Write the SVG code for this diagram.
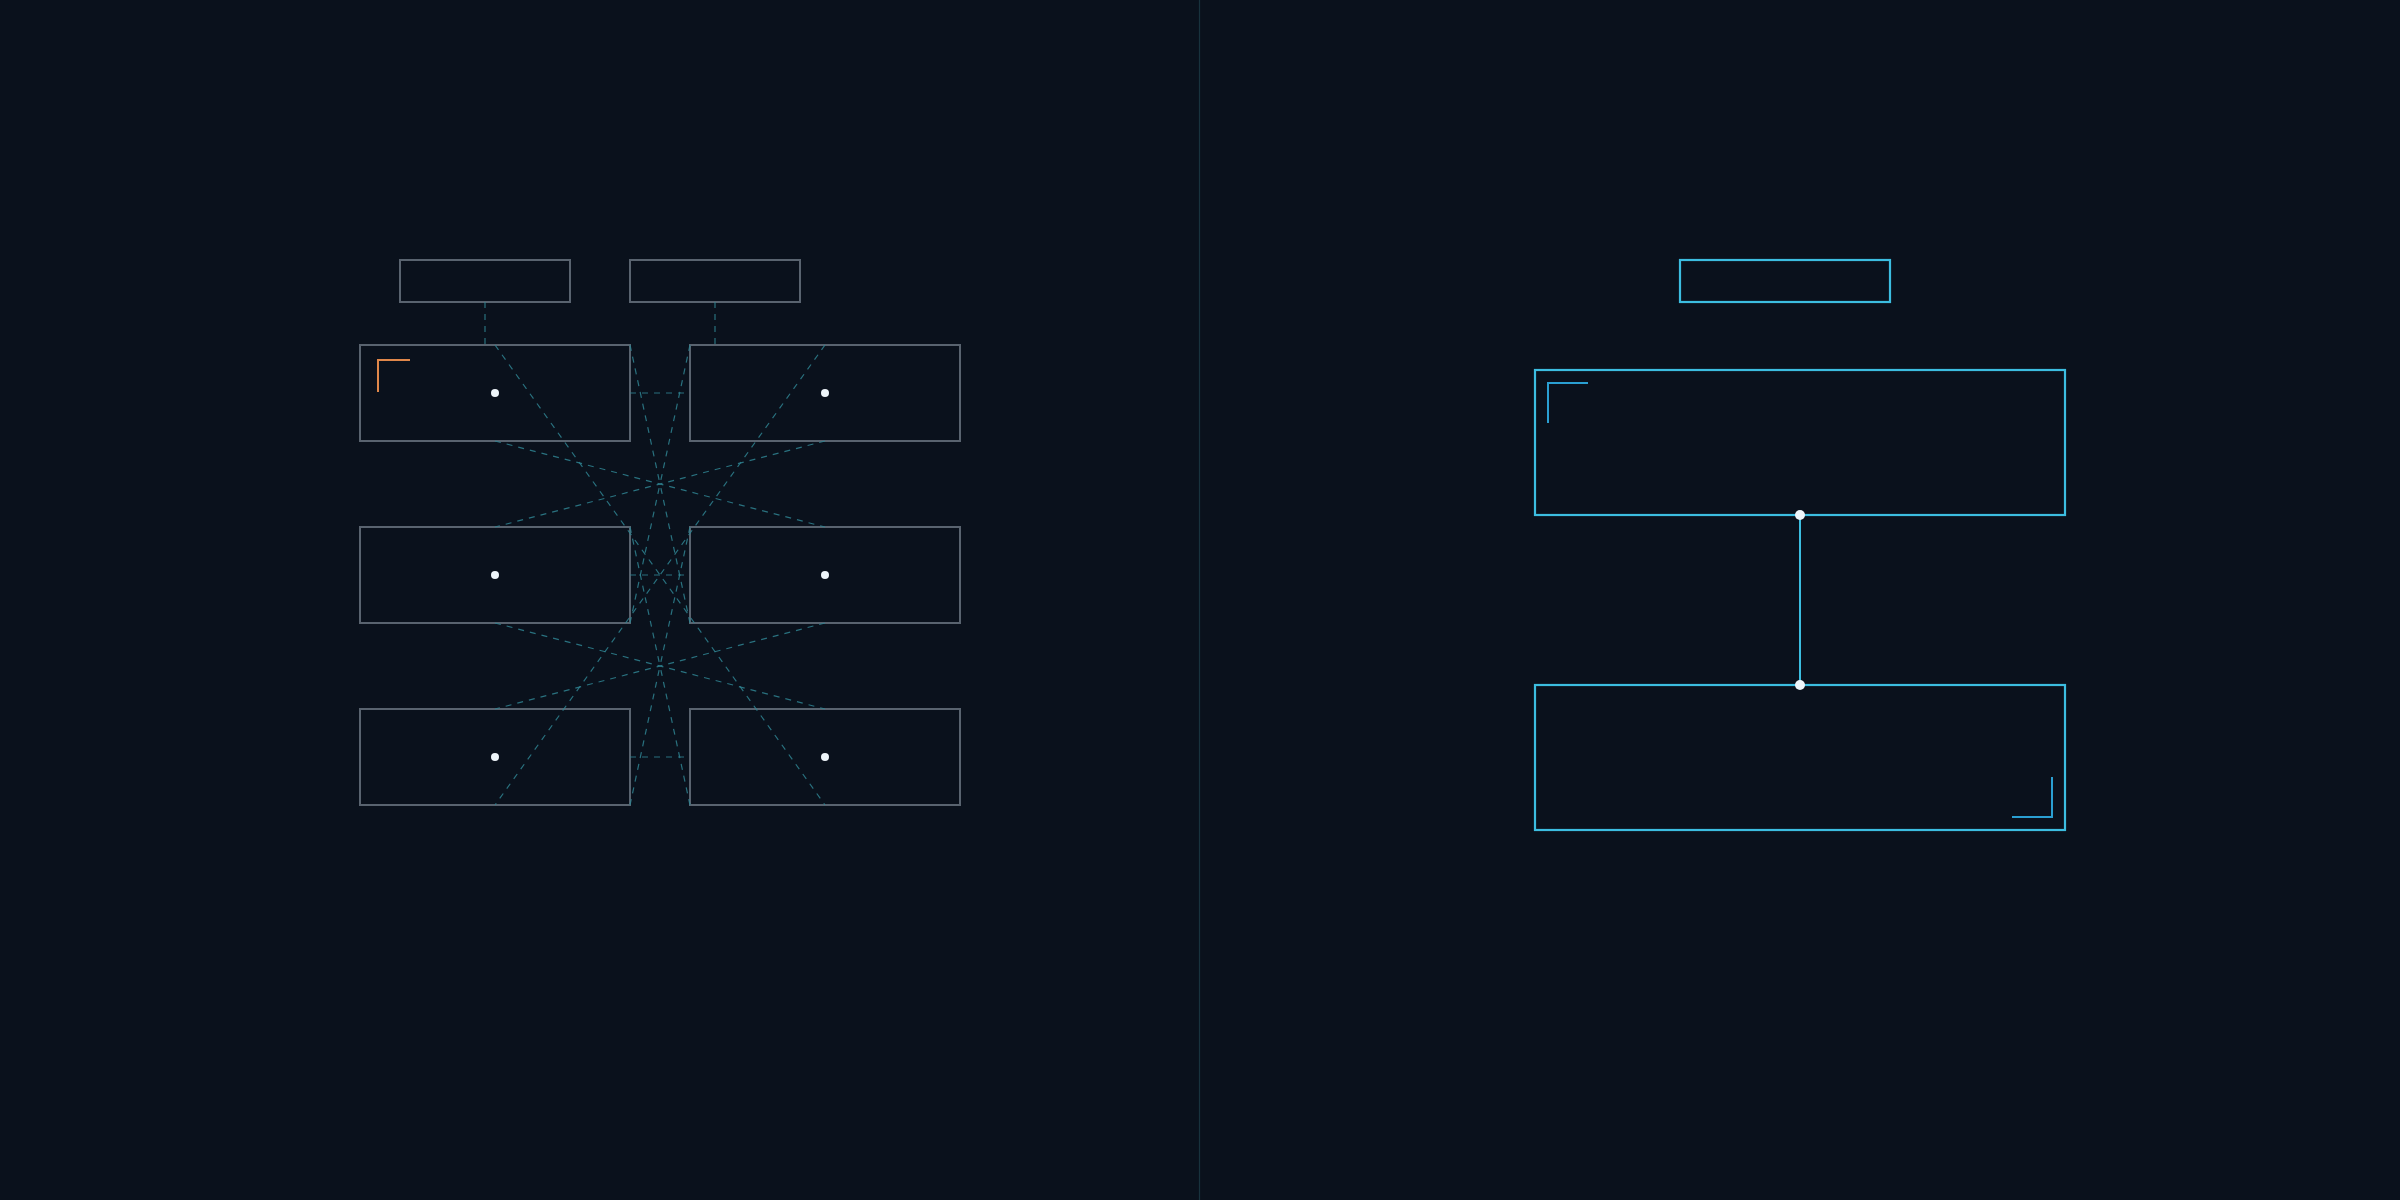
<svg xmlns="http://www.w3.org/2000/svg" width="2400" height="1200" viewBox="0 0 2400 1200">
  <style>
    .bg { fill: #0a111c; }
    .gbox { fill: #0a111c; stroke: #59636f; stroke-width: 2; }
    .cbox { fill: #0a111c; stroke: #3cbde0; stroke-width: 2.2; }
    .dash { fill: none; stroke: #2f8291; stroke-width: 1.2; stroke-dasharray: 6 6; opacity: 0.85; }
    .dot { fill: #eef5fa; }
    .solid { fill: none; stroke: #3cbde0; stroke-width: 2; }
  </style>
  <rect class="bg" x="0" y="0" width="2400" height="1200"/>
  <line x1="1199.5" y1="0" x2="1199.5" y2="1200" stroke="#18323d" stroke-width="1.2"/>

  <g id="top-a"><rect class="gbox" x="400" y="260" width="170" height="42"/></g>
  <g id="top-b"><rect class="gbox" x="630" y="260" width="170" height="42"/></g>

  <g id="r1c1">
    <rect class="gbox" x="360" y="345" width="270" height="96"/>
    <path d="M378,392 V360 H410" fill="none" stroke="#e0874a" stroke-width="2"/>
    <circle class="dot" cx="495" cy="393" r="4"/>
  </g>
  <g id="r1c2">
    <rect class="gbox" x="690" y="345" width="270" height="96"/>
    <circle class="dot" cx="825" cy="393" r="4"/>
  </g>
  <g id="r2c1">
    <rect class="gbox" x="360" y="527" width="270" height="96"/>
    <circle class="dot" cx="495" cy="575" r="4"/>
  </g>
  <g id="r2c2">
    <rect class="gbox" x="690" y="527" width="270" height="96"/>
    <circle class="dot" cx="825" cy="575" r="4"/>
  </g>
  <g id="r3c1">
    <rect class="gbox" x="360" y="709" width="270" height="96"/>
    <circle class="dot" cx="495" cy="757" r="4"/>
  </g>
  <g id="r3c2">
    <rect class="gbox" x="690" y="709" width="270" height="96"/>
    <circle class="dot" cx="825" cy="757" r="4"/>
  </g>

  <g id="connectors-left">
    <line class="dash" x1="485" y1="302" x2="485" y2="345"/>
    <line class="dash" x1="715" y1="302" x2="715" y2="345"/>
    <line class="dash" x1="630" y1="393" x2="690" y2="393"/>
    <line class="dash" x1="630" y1="575" x2="690" y2="575"/>
    <line class="dash" x1="630" y1="757" x2="690" y2="757"/>
    <line class="dash" x1="495" y1="345" x2="825" y2="805"/>
    <line class="dash" x1="825" y1="345" x2="495" y2="805"/>
    <line class="dash" x1="495" y1="441" x2="825" y2="527"/>
    <line class="dash" x1="825" y1="441" x2="495" y2="527"/>
    <line class="dash" x1="495" y1="623" x2="825" y2="709"/>
    <line class="dash" x1="825" y1="623" x2="495" y2="709"/>
    <line class="dash" x1="630" y1="345" x2="660" y2="484"/>
    <line class="dash" x1="690" y1="345" x2="660" y2="484"/>
    <line class="dash" x1="630" y1="623" x2="660" y2="484"/>
    <line class="dash" x1="690" y1="623" x2="660" y2="484"/>
    <line class="dash" x1="630" y1="527" x2="660" y2="666"/>
    <line class="dash" x1="690" y1="527" x2="660" y2="666"/>
    <line class="dash" x1="630" y1="805" x2="660" y2="666"/>
    <line class="dash" x1="690" y1="805" x2="660" y2="666"/>
  </g>

  <g id="right-top"><rect class="cbox" x="1680" y="260" width="210" height="42"/></g>
  <g id="right-a">
    <rect class="cbox" x="1535" y="370" width="530" height="145"/>
    <path d="M1548,423 V383 H1588" fill="none" stroke="#2a9fd2" stroke-width="2"/>
  </g>
  <g id="right-b">
    <rect class="cbox" x="1535" y="685" width="530" height="145"/>
    <path d="M2012,817 H2052 V777" fill="none" stroke="#2a9fd2" stroke-width="2"/>
  </g>
  <g id="connectors-right">
    <line class="solid" x1="1800" y1="515" x2="1800" y2="685"/>
    <circle class="dot" cx="1800" cy="515" r="5"/>
    <circle class="dot" cx="1800" cy="685" r="5"/>
  </g>
</svg>
